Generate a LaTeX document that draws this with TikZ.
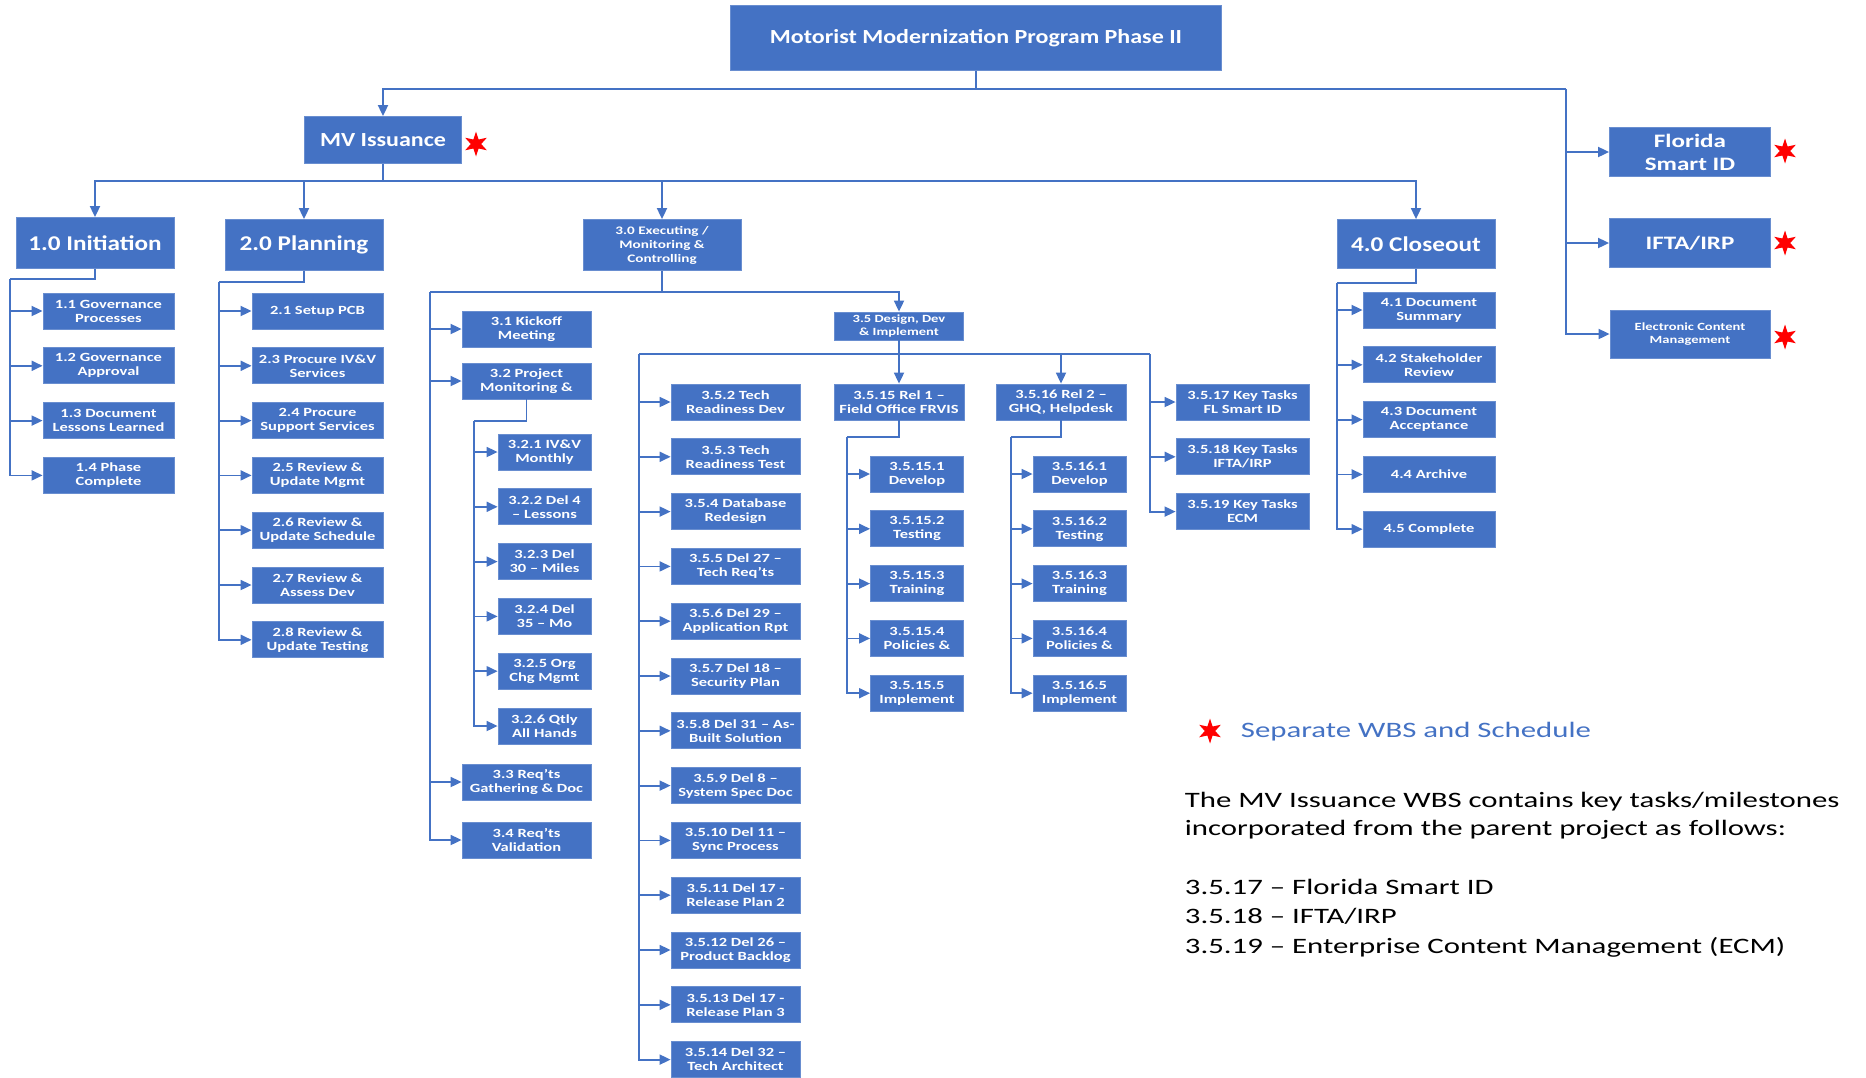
\documentclass[tikz,border=0pt]{standalone}
\usepackage{fontspec}
\setmainfont{Carlito}[FakeStretch=1.32]
\newfontfamily\headfont{Carlito}[FakeStretch=1.2]
\newfontfamily\notefont{Carlito}[FakeStretch=1.4]
\usetikzlibrary{positioning,arrows.meta,shapes.geometric}
\definecolor{wbsblue}{RGB}{68,114,196}

\begin{document}
\begin{tikzpicture}[x=1pt,y=-1pt,color=wbsblue,line width=1.8pt,node distance = {18pt},
  >={Triangle[length=11pt,width=10pt]},
  wbsbox/.style = {draw=wbsblue!80!white, line width=0.8pt, fill=wbsblue, text=white, align=center, inner sep=1pt},
  head/.style = {wbsbox, minimum width=158pt, minimum height=51pt, font=\headfont\bfseries\fontsize{21}{24}\selectfont},
  task/.style = {wbsbox, minimum width=131pt, minimum height=36pt, font=\bfseries\fontsize{12.5}{14}\selectfont},
  subtask/.style = {task, minimum width=93pt},
  redstar/.style = {star, star points=6, star point ratio=2.4, fill=red, draw=none, minimum size=25pt, inner sep=0pt}]
\useasboundingbox (0,0) rectangle (1866,1077);

% program and projects
\node[wbsbox, minimum width=491pt, minimum height=65pt, font=\headfont\bfseries\fontsize{20}{24}\selectfont](0) at (976,38) {Motorist Modernization Program Phase II};
\node[wbsbox, minimum width=157pt, minimum height=47pt, font=\headfont\bfseries\fontsize{20}{24}\selectfont](mv) at (383,140) {MV Issuance};
\node[wbsbox, minimum width=161pt, minimum height=49pt, font=\bfseries\fontsize{19}{23}\selectfont](fl) at (1690,152) {Florida\\Smart ID};
\node[wbsbox, minimum width=161pt, minimum height=49pt, font=\bfseries\fontsize{19}{23}\selectfont](ifta) at (1690,243) {IFTA/IRP};
\node[wbsbox, minimum width=160pt, minimum height=48pt, font=\bfseries\fontsize{11}{13}\selectfont](ecm) at (1690,334) {Electronic Content\\Management};
\node[redstar](s0) at (476,144) {};
\node[redstar](s1) at (1785,151) {};
\node[redstar](s2) at (1785,243) {};
\node[redstar](s3) at (1785,337) {};

% phases
\node[head](10) at (95,243) {1.0 Initiation};
\node[head](20) at (304,245) {2.0 Planning};
\node[head, font=\bfseries\fontsize{11.5}{14}\selectfont](30) at (662,245) {3.0 Executing /\\Monitoring \&\\Controlling};
\node[head, minimum height=49pt](40) at (1416,244) {4.0 Closeout};

% 1.0 Initiation
\node[task](11) at (108.5,311) {1.1 Governance\\Processes};
\node[task](12)[below=of 11] {1.2 Governance\\Approval};
\node[task](13)[below=of 12] {1.3 Document\\Lessons Learned};
\node[task](14)[below=of 13] {1.4 Phase\\Complete};

% 2.0 Planning
\node[task](21) at (317.5,311) {2.1 Setup PCB};
\node[task](23)[below=of 21] {2.3 Procure IV\&V\\Services};
\node[task](24)[below=of 23] {2.4 Procure\\Support Services};
\node[task](25)[below=of 24] {2.5 Review \&\\Update Mgmt};
\node[task](26)[below=of 25] {2.6 Review \&\\Update Schedule};
\node[task](27)[below=of 26] {2.7 Review \&\\Assess Dev};
\node[task](28)[below=of 27] {2.8 Review \&\\Update Testing};

% 3.0 Executing
\node[task, minimum width=129pt](31) at (526.5,329) {3.1 Kickoff\\Meeting};
\node[task, minimum width=129pt](32) at (526.5,381) {3.2 Project\\Monitoring \&};
\node[task, minimum width=129pt](33) at (526.5,782) {3.3 Req'ts\\Gathering \& Doc};
\node[task, minimum width=129pt](34) at (526.5,840) {3.4 Req'ts\\Validation};

\node[subtask](321) at (544.5,452) {3.2.1 IV\&V\\Monthly};
\node[subtask](322)[below=of 321] {3.2.2 Del 4\\– Lessons};
\node[subtask](323)[below=of 322] {3.2.3 Del\\30 – Miles};
\node[subtask](324)[below=of 323] {3.2.4 Del\\35 – Mo};
\node[subtask](325)[below=of 324] {3.2.5 Org\\Chg Mgmt};
\node[subtask](326)[below=of 325] {3.2.6 Qtly\\All Hands};

\node[task, minimum width=129pt, minimum height=28pt, font=\bfseries\fontsize{11}{12.5}\selectfont](35) at (899,326) {3.5 Design, Dev\\\& Implement};

\node[task, minimum width=129pt](352) at (735.5,402) {3.5.2 Tech\\Readiness Dev};
\node[task, minimum width=129pt](353)[below=of 352] {3.5.3 Tech\\Readiness Test};
\node[task, minimum width=129pt](354)[below=of 353] {3.5.4 Database\\Redesign};
\node[task, minimum width=129pt](355)[below=of 354] {3.5.5 Del 27 –\\Tech Req'ts};
\node[task, minimum width=129pt](356)[below=of 355] {3.5.6 Del 29 –\\Application Rpt};
\node[task, minimum width=129pt](357)[below=of 356] {3.5.7 Del 18 –\\Security Plan};
\node[task, minimum width=129pt](358)[below=of 357] {3.5.8 Del 31 – As-\\Built Solution};
\node[task, minimum width=129pt](359)[below=of 358] {3.5.9 Del 8 –\\System Spec Doc};
\node[task, minimum width=129pt](3510)[below=of 359] {3.5.10 Del 11 –\\Sync Process};
\node[task, minimum width=129pt](3511)[below=of 3510] {3.5.11 Del 17 -\\Release Plan 2};
\node[task, minimum width=129pt](3512)[below=of 3511] {3.5.12 Del 26 –\\Product Backlog};
\node[task, minimum width=129pt](3513)[below=of 3512] {3.5.13 Del 17 -\\Release Plan 3};
\node[task, minimum width=129pt](3514)[below=of 3513] {3.5.14 Del 32 –\\Tech Architect};

\node[task, minimum width=130pt](3515) at (899,402) {3.5.15 Rel 1 –\\Field Office FRVIS};
\node[task, minimum width=130pt](3516) at (1061,402) {3.5.16 Rel 2 –\\GHQ, Helpdesk};

\node[subtask](35151) at (917,474) {3.5.15.1\\Develop};
\node[subtask](35152)[below=of 35151] {3.5.15.2\\Testing};
\node[subtask](35153)[below=of 35152] {3.5.15.3\\Training};
\node[subtask](35154)[below=of 35153] {3.5.15.4\\Policies \&};
\node[subtask](35155)[below=of 35154] {3.5.15.5\\Implement};

\node[subtask](35161) at (1079.5,474) {3.5.16.1\\Develop};
\node[subtask](35162)[below=of 35161] {3.5.16.2\\Testing};
\node[subtask](35163)[below=of 35162] {3.5.16.3\\Training};
\node[subtask](35164)[below=of 35163] {3.5.16.4\\Policies \&};
\node[subtask](35165)[below=of 35164] {3.5.16.5\\Implement};

\node[task, minimum width=133pt](3517) at (1242.5,402) {3.5.17 Key Tasks\\FL Smart ID};
\node[task, minimum width=133pt](3518)[below=of 3517] {3.5.18 Key Tasks\\IFTA/IRP};
\node[task, minimum width=133pt](3519)[below=of 3518] {3.5.19 Key Tasks\\ECM};

% 4.0 Closeout
\node[task, minimum width=132pt](41) at (1429,310) {4.1 Document\\Summary};
\node[task, minimum width=132pt](42)[below=of 41] {4.2 Stakeholder\\Review};
\node[task, minimum width=132pt](43)[below=of 42] {4.3 Document\\Acceptance};
\node[task, minimum width=132pt](44)[below=of 43] {4.4 Archive};
\node[task, minimum width=132pt](45)[below=of 44] {4.5 Complete};

% connectors
\coordinate (t) at (976,89);
\coordinate (tr) at (1566,89);
\draw (0) -- (t);
\draw[->] (t) -| (mv);
\draw (t) -- (tr);
\draw[->] (tr) |- (fl);
\draw[->] (tr) |- (ifta);
\draw[->] (tr) |- (ecm);

\coordinate (m) at (383,181);
\draw (mv) -- (m);
\draw[->] (m) -| (10);
\draw[->] (m) -| (20);
\draw[->] (m) -| (30);
\draw[->] (m) -| (40);

\coordinate (c1) at (10,279);
\draw (10) |- (c1);
\draw[->] (c1) |- (11);
\draw[->] (c1) |- (12);
\draw[->] (c1) |- (13);
\draw[->] (c1) |- (14);

\coordinate (c2) at (219,282);
\draw (20) |- (c2);
\draw[->] (c2) |- (21);
\draw[->] (c2) |- (23);
\draw[->] (c2) |- (24);
\draw[->] (c2) |- (25);
\draw[->] (c2) |- (26);
\draw[->] (c2) |- (27);
\draw[->] (c2) |- (28);

\coordinate (e) at (662,292);
\coordinate (el) at (430,292);
\draw (30) -- (e) -- (el);
\draw[->] (e) -| (35);
\draw[->] (el) |- (31);
\draw[->] (el) |- (32);
\draw[->] (el) |- (33);
\draw[->] (el) |- (34);

\coordinate (p) at (474,421);
\draw (32) |- (p);
\draw[->] (p) |- (321);
\draw[->] (p) |- (322);
\draw[->] (p) |- (323);
\draw[->] (p) |- (324);
\draw[->] (p) |- (325);
\draw[->] (p) |- (326);

\coordinate (dl) at (639,354);
\coordinate (dr) at (1150,354);
\draw[->] (35) -- (3515);
\draw (dl) -- (dr);
\draw[->] (dl) -| (3516);
\draw[->] (dl) |- (352);
\draw[->] (dl) |- (353);
\draw[->] (dl) |- (354);
\draw[->] (dl) |- (355);
\draw[->] (dl) |- (356);
\draw[->] (dl) |- (357);
\draw[->] (dl) |- (358);
\draw[->] (dl) |- (359);
\draw[->] (dl) |- (3510);
\draw[->] (dl) |- (3511);
\draw[->] (dl) |- (3512);
\draw[->] (dl) |- (3513);
\draw[->] (dl) |- (3514);
\draw[->] (dr) |- (3517);
\draw[->] (dr) |- (3518);
\draw[->] (dr) |- (3519);

\coordinate (f1) at (847,437);
\draw (3515) |- (f1);
\draw[->] (f1) |- (35151);
\draw[->] (f1) |- (35152);
\draw[->] (f1) |- (35153);
\draw[->] (f1) |- (35154);
\draw[->] (f1) |- (35155);

\coordinate (f2) at (1011,437);
\draw (3516) |- (f2);
\draw[->] (f2) |- (35161);
\draw[->] (f2) |- (35162);
\draw[->] (f2) |- (35163);
\draw[->] (f2) |- (35164);
\draw[->] (f2) |- (35165);

\coordinate (c4) at (1337,283);
\draw (40) |- (c4);
\draw[->] (c4) |- (41);
\draw[->] (c4) |- (42);
\draw[->] (c4) |- (43);
\draw[->] (c4) |- (44);
\draw[->] (c4) |- (45);

% legend and notes
\node[redstar](s4) at (1210,731) {};
\node[anchor=west, text=wbsblue, inner sep=0pt, font=\notefont\fontsize{22}{28}\selectfont](sep) at (1240,732) {Separate WBS and Schedule};
\node[anchor=north west, align=left, text=black, inner sep=0pt, font=\notefont\fontsize{22}{28}\selectfont](note) at (1184,791) {The MV Issuance WBS contains key tasks/milestones\\incorporated from the parent project as follows:};
\node[anchor=north west, align=left, text=black, inner sep=0pt, font=\notefont\fontsize{22}{29.5}\selectfont](keys) at (1184,878) {3.5.17 – Florida Smart ID\\3.5.18 – IFTA/IRP\\3.5.19 – Enterprise Content Management (ECM)};

\end{tikzpicture}
\end{document}
